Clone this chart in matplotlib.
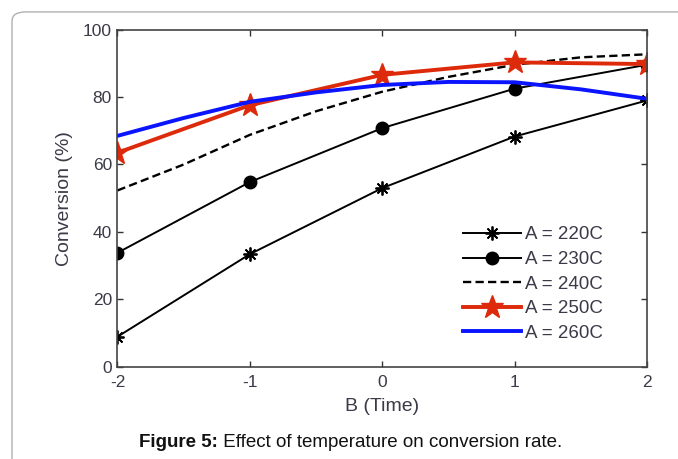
import matplotlib
matplotlib.use("Agg")
import matplotlib.pyplot as plt
from matplotlib.patches import FancyBboxPatch

plt.rcParams['font.family'] = ['Liberation Sans', 'DejaVu Sans']

# data
x = [-2, -1, 0, 1, 2]
x_half = [-2, -1.5, -1, -0.5, 0, 0.5, 1, 1.5, 2]
a220 = [8.9, 33.4, 53.0, 68.3, 79.0]
a230 = [33.8, 54.8, 70.8, 82.5, 89.6]
a240 = [52.3, 60.0, 68.8, 75.8, 81.6, 86.0, 89.6, 91.8, 92.7]
a250 = [63.5, 77.6, 86.6, 90.3, 89.8]
a260 = [68.5, 73.8, 78.6, 81.4, 83.6, 84.5, 84.4, 82.3, 79.5]
labels = ['A = 220C', 'A = 230C', 'A = 240C', 'A = 250C', 'A = 260C']
xtick_labels = ['-2', '-1', '0', '1', '2']
yticks = [0, 20, 40, 60, 80, 100]

tick_col = '#3a3a48'

fig = plt.figure(figsize=(6.78, 4.59), dpi=100)

# rounded frame around the figure
frame = FancyBboxPatch((0.0177, -0.2), 1.2, 1.174,
                       boxstyle="round,pad=0,rounding_size=0.02",
                       transform=fig.transFigure, fill=False,
                       edgecolor='#b0b0b0', linewidth=1.0, clip_on=False)
fig.patches.append(frame)

ax = fig.add_axes([0.1733, 0.2011, 0.781, 0.7342])

ax.plot(x, a220, color='black', lw=1.4, marker=(8, 2, 0), ms=10, mew=1.3, label=labels[0])
ax.plot(x, a230, color='black', lw=1.4, marker='o', ms=9, label=labels[1])
ax.plot(x_half, a240, color='black', lw=1.7, ls=(0, (3.5, 1.8)), label=labels[2])
ax.plot(x, a250, color='#dd2a0a', lw=2.8, marker='*', ms=17, label=labels[3])
ax.plot(x_half, a260, color='#0a14ff', lw=2.8, label=labels[4])

ax.set_xlim(-2, 2)
ax.set_ylim(0, 100)
ax.set_xticks(x)
ax.set_xticklabels(xtick_labels)
ax.set_yticks(yticks)
ax.tick_params(direction='in', length=4, width=1, top=True, right=True,
               labelsize=12.5, labelcolor=tick_col, color='#333333')
ax.tick_params(axis='x', pad=6)
ax.tick_params(axis='y', pad=4)
for s in ax.spines.values():
    s.set_color('#444444')
    s.set_linewidth(1.2)

ax.set_xlabel('B (Time)', fontsize=14, color=tick_col, labelpad=6)
ax.set_ylabel('Conversion (%)', fontsize=14, color=tick_col, labelpad=7)

leg = ax.legend(loc='center', bbox_to_anchor=(0.785, 0.245), frameon=False,
                fontsize=13.5, handlelength=3.1, handletextpad=0.2,
                labelspacing=0.4)
for t in leg.get_texts():
    t.set_color(tick_col)

# caption: bold prefix followed by normal text
cap = fig.text(0.205, 0.026, 'Figure 5:', fontsize=13.5, fontweight='bold', color='#111111')
fig.canvas.draw()
bb = cap.get_window_extent()
x1 = fig.transFigure.inverted().transform((bb.x1, bb.y0))[0]
fig.text(x1, 0.026, ' Effect of temperature on conversion rate.', fontsize=13.5, color='#111111')

fig.savefig('out.png', dpi=100)
